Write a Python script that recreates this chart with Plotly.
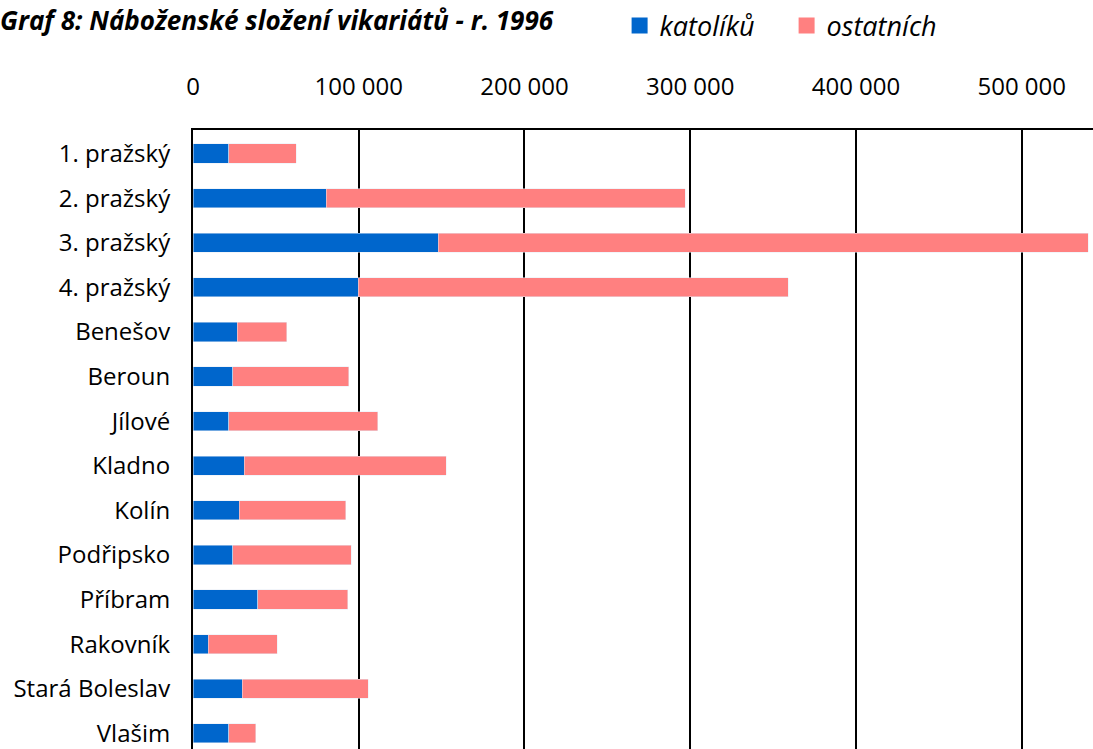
import plotly.graph_objects as go

vikariaty = ["1. pražský", "2. pražský", "3. pražský", "4. pražský", "Benešov", "Beroun",
             "Jílové", "Kladno", "Kolín", "Podřipsko", "Příbram", "Rakovník",
             "Stará Boleslav", "Vlašim"]
katoliku = [21700, 80300, 147900, 99600, 26600, 24100, 21700, 30800, 27800, 24100,
            39200, 9100, 29600, 21700]
celkem = [62200, 297000, 540000, 359000, 56700, 94100, 111600, 152700, 92300, 95400,
          93500, 50700, 105600, 38000]
ostatnich = [c - k for c, k in zip(celkem, katoliku)]
x_ticks = [0, 100000, 200000, 300000, 400000, 500000]

font = "Open Sans"
blue = "#0066CC"
pink = "#FF8080"

fig = go.Figure()
fig.add_trace(go.Bar(y=vikariaty, x=katoliku, name="katolíků", orientation="h",
                     marker_color=blue, width=0.43, showlegend=False))
fig.add_trace(go.Bar(y=vikariaty, x=ostatnich, name="ostatních", orientation="h",
                     marker_color=pink, width=0.43, showlegend=False))
# legend entries with larger square swatches
for name, color in [("katolíků", blue), ("ostatních", pink)]:
    fig.add_trace(go.Scatter(x=[None], y=[None], mode="markers", name=name,
                             marker=dict(symbol="square", size=18, color=color)))

fig.update_layout(
    barmode="stack",
    width=1093, height=749,
    margin=dict(t=130, b=0, l=193, r=0, autoexpand=False),
    plot_bgcolor="white", paper_bgcolor="white",
    separators=", ",
    font=dict(family=font, size=24, color="black"),
    showlegend=True,
    legend=dict(orientation="h", x=0.474, y=1.168, xanchor="left", yanchor="middle",
                font=dict(family=font, size=27, style="italic"), traceorder="normal",
                itemclick=False, entrywidth=122, itemwidth=30),
    annotations=[dict(text="<b><i>Graf 8: Náboženské složení vikariátů - r. 1996</i></b>",
                      xref="paper", yref="paper", x=0.403, y=1.178, xanchor="right",
                      yanchor="middle", showarrow=False, font=dict(family=font, size=26))],
)
fig.update_xaxes(side="top", range=[0, 543000], tickvals=x_ticks, tickformat=",d",
                 showgrid=True, gridcolor="black", gridwidth=1.5, zeroline=False,
                 showline=True, linecolor="black", linewidth=1.5,
                 ticks="", ticklabelstandoff=24)
fig.update_yaxes(range=[13.35, -0.527], showgrid=False, showline=True, linecolor="black",
                 linewidth=2, ticks="", ticklabelstandoff=16)

fig.write_html("out.html", config={"displayModeBar": False},
               post_script="document.body.style.margin='0';document.body.style.overflow='hidden';")
